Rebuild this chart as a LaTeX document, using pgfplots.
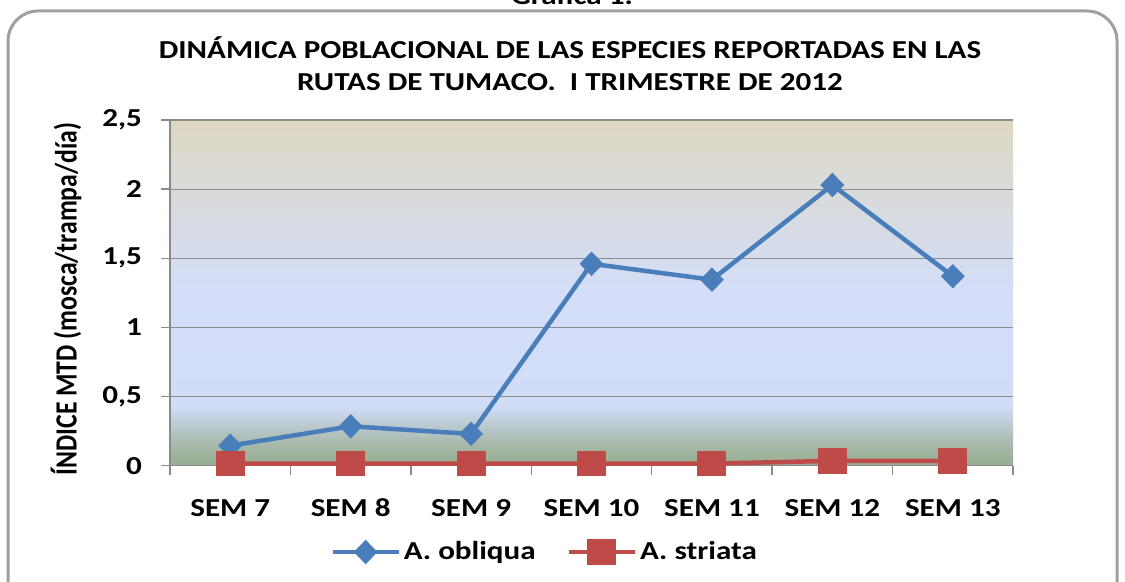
\documentclass[border=0pt]{standalone}
\usepackage{graphicx}
\usepackage{pgfplots}
\pgfplotsset{compat=1.18}
\usepackage{fontspec}
\setmainfont{Carlito}[FakeStretch=1.2]
\newfontfamily\plainfont{Carlito}

\definecolor{bg0}{HTML}{97AD93}
\definecolor{bg1}{HTML}{A3B5A3}
\definecolor{bg2}{HTML}{B5C4C3}
\definecolor{bg3}{HTML}{D1DCF6}
\definecolor{bg4}{HTML}{D4DEF9}
\definecolor{bg5}{HTML}{D5DCEE}
\definecolor{bg6}{HTML}{D9DADA}
\definecolor{bg7}{HTML}{DED8C2}
\definecolor{axisgray}{HTML}{8A8A8A}
\definecolor{gridgray}{HTML}{8C8C8C}
\definecolor{framegray}{HTML}{A0A0A0}
\definecolor{sblue}{HTML}{4A7EBB}
\definecolor{sred}{HTML}{BE4B48}

\pgfdeclareverticalshading{plotbg}{100bp}{color(0bp)=(bg0); color(25bp)=(bg0); color(27.5bp)=(bg1); color(30bp)=(bg2); color(33.5bp)=(bg3); color(50bp)=(bg4); color(55bp)=(bg5); color(65bp)=(bg6); color(75bp)=(bg7); color(100bp)=(bg7)}

\newcommand{\cf}{\bfseries\fontsize{13}{15}\selectfont}

\begin{document}
\begin{tikzpicture}
\def\s{0.5bp}
\useasboundingbox (0,0) rectangle ({1125*\s},{-581*\s});
\clip (0,0) rectangle ({1125*\s},{-581*\s});
\draw[line width=1.5bp, draw=framegray, rounded corners=15bp] ({8*\s},{-11*\s}) rectangle ({1117*\s},{-640*\s});
\node[anchor=base, font=\cf, inner sep=0pt] at ({572*\s},{-5*\s}) {Gráfica 1.};
\node[anchor=base, font=\cf, inner sep=0pt] at ({570*\s},{-59*\s}) {DINÁMICA POBLACIONAL DE LAS ESPECIES REPORTADAS EN LAS};
\node[anchor=base, font=\cf, inner sep=0pt] at ({570*\s},{-91*\s}) {RUTAS DE TUMACO.\ \ I TRIMESTRE DE 2012};
\begin{axis}[
  at={({170*\s},{-465.7*\s})}, anchor=south west,
  width=421.5bp, height=172.85bp, scale only axis,
  xmin=-0.5, xmax=6.5, ymin=0, ymax=2.5,
  axis x line*=bottom, axis y line*=left,
  axis line style={draw=axisgray, line width=0.75bp, -},
  xtick={-0.5,0.5,1.5,2.5,3.5,4.5,5.5,6.5},
  x tick label as interval,
  xticklabels={SEM 7,SEM 8,SEM 9,SEM 10,SEM 11,SEM 12,SEM 13},
  ytick={0,0.5,1,1.5,2,2.5},
  yticklabels={0,{0,5},1,{1,5},2,{2,5}},
  ymajorgrids, grid style={draw=gridgray, line width=0.6bp},
  tick align=outside,
  major tick length=4.5bp,
  tick style={draw=axisgray, line width=0.75bp},
  ticklabel style={font=\cf},
  xticklabel style={yshift=-9bp, text height=8.5bp, text depth=0pt},
  yticklabel style={xshift=-6bp},
  ylabel={\scalebox{1}[1.2]{\plainfont\bfseries\fontsize{12.9}{15}\selectfont ÍNDICE MTD (mosca/trampa/día)}},
  ylabel style={at={(axis description cs:-0.1234,0.482)}, anchor=center},
  axis background/.style={shade, shading=plotbg},
  clip=false,
  legend columns=2,
  legend style={at={(axis description cs:0.445,-0.2497)}, anchor=center, draw=none, fill=none, font=\cf,
    nodes={inner sep=1.5bp},
    /tikz/every even column/.append style={column sep=14bp}},
  legend image code/.code={\draw[mark repeat=2,mark phase=2] plot coordinates {(0bp,0bp) (16.5bp,0bp) (33bp,0bp)};},
]
\addplot[color=sblue, line width=2.25bp, mark=diamond*, mark size=4.5bp, mark options={xscale=1.3, solid, fill=sblue}]
  coordinates {(0,0.145) (1,0.285) (2,0.23) (3,1.46) (4,1.345) (5,2.03) (6,1.37)};
\addlegendentry{A. obliqua}
\addplot[color=sred, line width=2.25bp, mark=square*, mark size=5.2bp, mark options={xscale=1.18, solid, fill=sred}]
  coordinates {(0,0.015) (1,0.015) (2,0.015) (3,0.015) (4,0.015) (5,0.035) (6,0.035)};
\addlegendentry{A. striata}
\end{axis}
\end{tikzpicture}
\end{document}
